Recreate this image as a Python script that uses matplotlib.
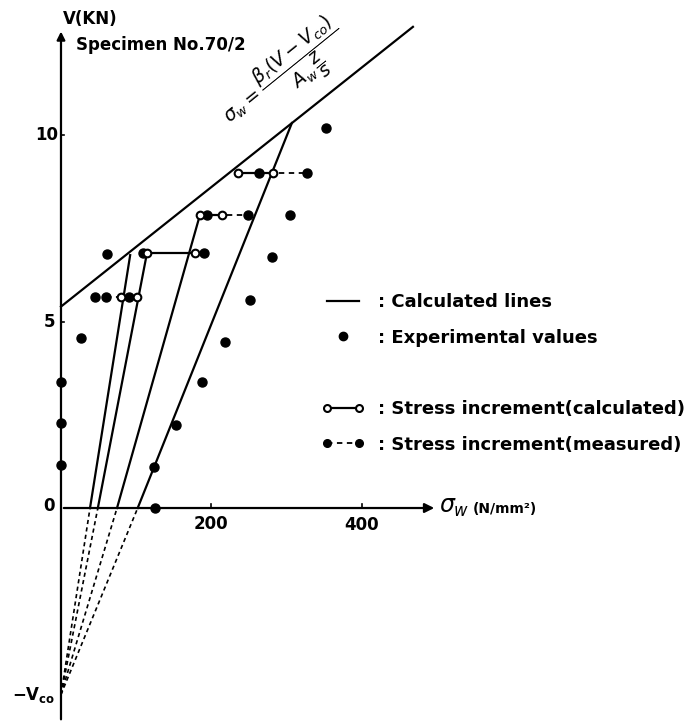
import matplotlib
matplotlib.use("Agg")
import matplotlib.pyplot as plt
from matplotlib.lines import Line2D
from matplotlib.legend_handler import HandlerLine2D

# experimental values (sigma_w in N/mm^2, V in kN)
exp_sigma = [0, 0, 0, 27, 45, 61, 125, 124, 153, 187, 218, 251, 280, 305, 352]
exp_V = [1.15, 2.28, 3.38, 4.56, 5.66, 6.81, 0.0, 1.10, 2.22, 3.38, 4.45, 5.58, 6.73, 7.86, 10.19]

# load levels of the stress increments
inc_V = [5.66, 6.84, 7.86, 8.98]
# calculated increment: start / end stress
calc_start = [80, 114, 185, 235]
calc_end = [101, 178, 214, 282]
# measured increment: start / end stress
meas_start = [60, 109, 194, 263]
meas_end = [90, 190, 249, 327]

# calculated lines radiating from -Vco
Vco = 5.0
rad_sigma0 = [38.6, 49, 74.5, 102]
rad_top_sigma = [92, 114.4, 184.8, 307]
rad_top_V = [6.78, 6.84, 7.86, 10.32]

# upper limit line sigma_w = beta_r (V - Vco) / (A_w z/s)
upper_sigma = [0, 468]
upper_V = [5.4, 12.9]

plt.rcParams['mathtext.fontset'] = 'dejavusans'

fig = plt.figure(figsize=(6.99, 7.22), dpi=100)
ax = fig.add_axes([0, 0, 1, 1])
ax.set_xlim(-81.1, 848.4)
ax.set_ylim(-5.737, 13.62)
ax.axis('off')

lw = 1.6

# axes with arrows
ax.annotate('', xy=(0, 12.85), xytext=(0, -5.74),
            arrowprops=dict(arrowstyle='-|>', lw=lw, color='black', mutation_scale=12))
ax.annotate('', xy=(500, 0), xytext=(0, 0),
            arrowprops=dict(arrowstyle='-|>', lw=lw, color='black', mutation_scale=14))

# tick marks and labels
for v in [5, 10]:
    ax.plot([0, 4], [v, v], color='black', lw=1.2)
for s in [200, 400]:
    ax.plot([s, s], [0, 0.1], color='black', lw=1.2)
ax.text(-4, 10, '10', ha='right', va='center', fontsize=12, fontweight='bold')
ax.text(-7, 5, '5', ha='right', va='center', fontsize=12, fontweight='bold')
ax.text(-8, 0.05, '0', ha='right', va='center', fontsize=12, fontweight='bold')
ax.text(200, -0.42, '200', ha='center', va='center', fontsize=12, fontweight='bold')
ax.text(400, -0.45, '400', ha='center', va='center', fontsize=12, fontweight='bold')
ax.text(-8, -5.0, r'$\mathbf{-V_{co}}$', ha='right', va='center', fontsize=12)

ax.text(2, 13.1, 'V(KN)', ha='left', va='center', fontsize=12, fontweight='bold')
ax.text(20, 12.42, 'Specimen No.70/2', ha='left', va='center', fontsize=12, fontweight='bold')
ax.text(502, 0.02, r'$\sigma_w$', ha='left', va='center', fontsize=17)
ax.text(547, -0.02, '(N/mm²)', ha='left', va='center', fontsize=10, fontweight='bold')

# upper limit line and its formula
ax.plot(upper_sigma, upper_V, color='black', lw=lw)
ax.text(298, 11.55, r'$\sigma_w = \dfrac{\beta_r(V - V_{co})}{A_w\,\dfrac{z}{s}}$',
        rotation=39, rotation_mode='anchor', ha='center', va='center', fontsize=13.5)

# radial calculated lines
for s0, ts, tv in zip(rad_sigma0, rad_top_sigma, rad_top_V):
    ax.plot([0, s0], [-Vco, 0], color='black', lw=1.2, linestyle=(0, (2.5, 2)))
    ax.plot([s0, ts], [0, tv], color='black', lw=lw)

# measured increments
for v, a, b in zip(inc_V, meas_start, meas_end):
    ax.plot([a, b], [v, v], color='black', lw=1.3, linestyle=(0, (3, 2.5)),
            marker='o', markersize=6.5, markerfacecolor='black')

# calculated increments
for v, a, b in zip(inc_V, calc_start, calc_end):
    ax.plot([a, b], [v, v], color='black', lw=lw, marker='o', markersize=5.5,
            markerfacecolor='white', markeredgewidth=1.5)

# experimental values
ax.plot(exp_sigma, exp_V, 'o', color='black', markersize=6.5, linestyle='none')

# key
h_calc = Line2D([], [], color='black', lw=lw)
h_exp = Line2D([], [], color='black', marker='o', markersize=6, linestyle='none')
h_blank = Line2D([], [], color='none')
h_inc_c = Line2D([], [], color='black', lw=lw, marker='o', markersize=5,
                 markerfacecolor='white', markeredgewidth=1.5)
h_inc_m = Line2D([], [], color='black', lw=1.3, linestyle=(0, (3, 2.5)),
                 marker='o', markersize=5.5, markerfacecolor='black')
leg = ax.legend([h_calc, h_exp, h_blank, h_inc_c, h_inc_m],
                [': Calculated lines', ': Experimental values', '',
                 ': Stress increment(calculated)', ': Stress increment(measured)'],
                handler_map={h_exp: HandlerLine2D(numpoints=1)},
                loc='upper left', bbox_to_anchor=(322 / 699, 1 - 293 / 722),
                frameon=False, borderpad=0, borderaxespad=0, numpoints=2,
                handlelength=2.35, handletextpad=0.75, labelspacing=0.98,
                prop={'weight': 'bold', 'size': 13})

fig.savefig('out.png', dpi=100)
